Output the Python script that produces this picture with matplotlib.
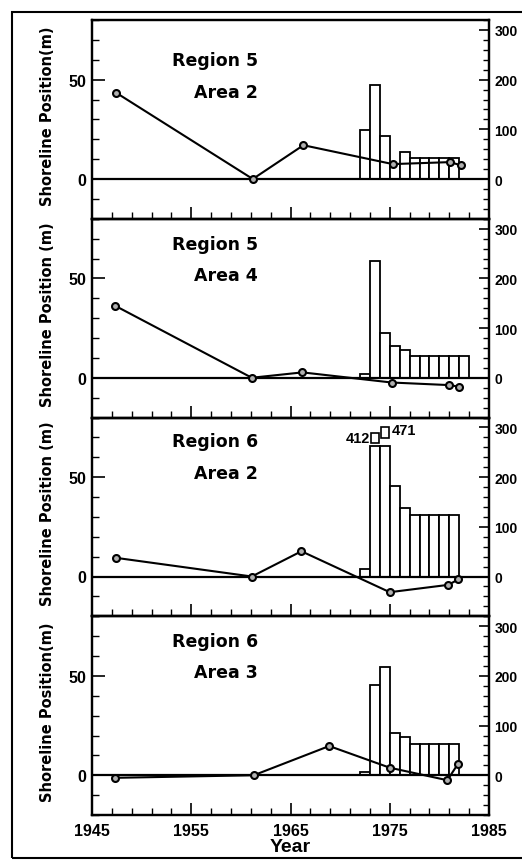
import numpy as np
import matplotlib
matplotlib.use("Agg")
import matplotlib.pyplot as plt
from matplotlib.patches import Rectangle
from matplotlib.ticker import MultipleLocator, FixedLocator

# shoreline position (m) at photo dates, left axis
years_r5a2 = [1947.4, 1961.2, 1966.3, 1975.3, 1981.1, 1982.2]
shore_r5a2 = [43.5, 0.0, 17.0, 7.5, 8.5, 6.8]
years_r5a4 = [1947.3, 1961.1, 1966.2, 1975.2, 1981.0, 1982.0]
shore_r5a4 = [36.3, 0.0, 2.7, -2.4, -3.7, -4.5]
years_r6a2 = [1947.4, 1961.1, 1966.1, 1975.0, 1980.9, 1981.9]
shore_r6a2 = [9.4, 0.0, 12.7, -7.9, -4.2, -1.5]
years_r6a3 = [1947.3, 1961.3, 1968.9, 1975.0, 1980.8, 1981.9]
shore_r6a3 = [-1.3, 0.0, 14.7, 3.8, -2.5, 5.9]

# yearly bars, right axis
bar_years_r5a2 = list(range(1972, 1982))
bars_r5a2 = [98, 189, 86, 30, 55, 43, 43, 43, 43, 43]
bar_years_r5a4 = list(range(1972, 1983))
bars_r5a4 = [8, 234, 91, 63, 56, 44, 44, 44, 44, 44, 44]
bar_years_r6a2 = list(range(1972, 1982))
bars_r6a2 = [15, 412, 471, 182, 138, 123, 123, 123, 123, 123]
bar_years_r6a3 = list(range(1972, 1982))
bars_r6a3 = [7, 181, 217, 86, 77, 62, 62, 62, 62, 62]

x_major = [1945, 1955, 1965, 1975, 1985]
x_minor = list(range(1945, 1986, 2))

regions = ["Region 5", "Region 5", "Region 6", "Region 6"]
areas = ["Area 2", "Area 4", "Area 2", "Area 3"]
ylabels = ["Shoreline Position(m)", "Shoreline Position (m)",
           "Shoreline Position (m)", "Shoreline Position(m)"]

panels = [
    (years_r5a2, shore_r5a2, bar_years_r5a2, bars_r5a2),
    (years_r5a4, shore_r5a4, bar_years_r5a4, bars_r5a4),
    (years_r6a2, shore_r6a2, bar_years_r6a2, bars_r6a2),
    (years_r6a3, shore_r6a3, bar_years_r6a3, bars_r6a3),
]
# label heights inside each panel (axes fraction)
label_y = [(0.80, 0.64), (0.875, 0.715), (0.88, 0.72), (0.877, 0.722)]

CLIP = 262  # bars taller than this get a break cap

tickfont = {"family": "Liberation Sans", "weight": "bold"}

W, H = 522, 862
fig = plt.figure(figsize=(W / 100, H / 100), dpi=100)
axes = fig.subplots(4, 1, sharex=True, gridspec_kw=dict(
    hspace=0, left=92 / W, right=489 / W, top=1 - 21 / H, bottom=1 - 816 / H))

for i, ax in enumerate(axes):
    yrs, shore, byrs, bars = panels[i]
    ax2 = ax.twinx()

    shown = [min(b, CLIP) for b in bars]
    ax2.bar(byrs, shown, width=1.0, align="edge", color="white",
            edgecolor="black", linewidth=1.3, zorder=2)
    # broken bars: little cap box above with the real value
    k = 0
    for x, b in zip(byrs, bars):
        if b > CLIP:
            capb = CLIP + 6 + 10 * k
            caph = b / 20.0
            ax2.add_patch(Rectangle((x + 0.12, capb), 0.76, caph, facecolor="white",
                                    edgecolor="black", linewidth=1.2, zorder=3))
            if k == 0:
                ax2.text(x + 0.05, capb + caph / 2, str(b), ha="right", va="center",
                         fontsize=10.5, **tickfont)
            else:
                ax2.text(x + 1.2, capb + caph * 0.75, str(b), ha="left", va="center",
                         fontsize=10.5, **tickfont)
            k += 1

    ax2.set_ylim(-80, 320)
    ax2.yaxis.set_major_locator(FixedLocator([0, 100, 200, 300]))
    ax2.yaxis.set_minor_locator(MultipleLocator(20))
    ax2.tick_params(axis="y", which="major", direction="in", length=7, width=1.2, pad=4)
    ax2.tick_params(axis="y", which="minor", direction="in", length=4, width=1.0)
    for lb in ax2.get_yticklabels():
        lb.set_fontfamily("Liberation Sans")
        lb.set_fontweight("bold")
        lb.set_fontsize(10)

    # shoreline line on top of the bars
    ax.set_zorder(ax2.get_zorder() + 1)
    ax.patch.set_visible(False)
    ax.axhline(0, color="black", linewidth=1.6, zorder=1)
    ax.plot(yrs, shore, color="black", linewidth=1.5, marker="o", markersize=5,
            markerfacecolor="#b0b0b0", markeredgecolor="black", markeredgewidth=1.5,
            zorder=4)

    ax.set_xlim(1945, 1985)
    ax.set_ylim(-20, 80)
    ax.yaxis.set_major_locator(FixedLocator([0, 50]))
    ax.yaxis.set_minor_locator(MultipleLocator(10))
    ax.xaxis.set_major_locator(FixedLocator(x_major))
    ax.xaxis.set_minor_locator(FixedLocator(x_minor))
    ax.tick_params(axis="both", which="major", direction="in", length=9, width=1.2)
    ax.tick_params(axis="both", which="minor", direction="in", length=5, width=1.0)
    ax.tick_params(axis="y", pad=4)
    ax.tick_params(axis="x", pad=6)
    for lb in ax.get_yticklabels() + ax.get_xticklabels():
        lb.set_fontfamily("Liberation Sans")
        lb.set_fontweight("bold")
        lb.set_fontsize(11.5)

    for sp in list(ax.spines.values()) + list(ax2.spines.values()):
        sp.set_linewidth(1.6)

    ax.set_ylabel(ylabels[i], fontsize=10.5, fontweight="bold", family="DejaVu Sans")
    ax.yaxis.set_label_coords(-0.093, 0.52)

    ax.text(0.418, label_y[i][0], regions[i], transform=ax.transAxes, ha="right",
            va="center", fontsize=12.5, fontweight="bold", family="DejaVu Sans")
    ax.text(0.418, label_y[i][1], areas[i], transform=ax.transAxes, ha="right",
            va="center", fontsize=12.5, fontweight="bold", family="DejaVu Sans")

axes[-1].set_xlabel("Year", fontsize=14, fontweight="bold", family="Liberation Sans",
                    labelpad=0)

# frame round the whole figure
fig.add_artist(Rectangle((12 / W, 3 / H), 1.0, 1 - 16 / H, transform=fig.transFigure,
                         fill=False, edgecolor="black", linewidth=1.5, clip_on=False))

fig.savefig("out.png", dpi=100)
